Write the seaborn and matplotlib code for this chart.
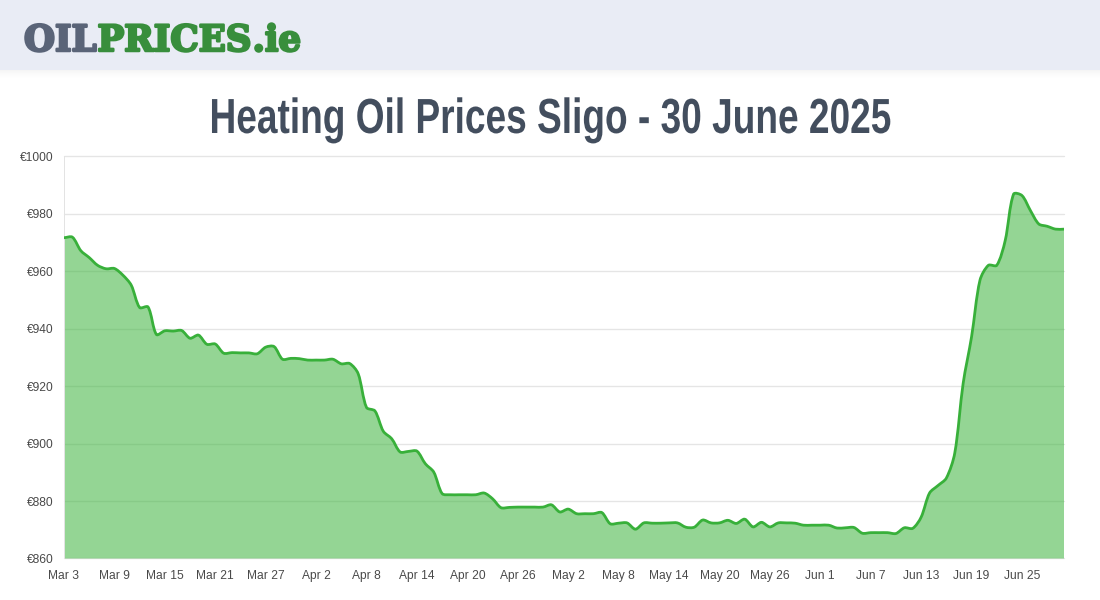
import numpy as np
import pandas as pd
import seaborn as sns
import matplotlib.pyplot as plt
import matplotlib.patheffects as pe
from matplotlib.patches import Rectangle, PathPatch
from matplotlib.path import Path
from matplotlib.transforms import Affine2D

# daily heating oil price, Mar 3 to Jun 30
prices = [971.7, 971.9, 967.2, 964.8, 962.1, 960.9, 961.0, 958.7, 955.2, 947.4,
          947.6, 938.0, 939.3, 939.2, 939.4, 936.7, 937.8, 934.6, 934.7, 931.5,
          931.7, 931.6, 931.6, 931.3, 933.6, 933.8, 929.4, 929.7, 929.6, 929.1,
          929.1, 929.1, 929.4, 927.8, 927.9, 924.4, 912.6, 911.4, 904.3, 901.7,
          897.1, 897.3, 897.4, 893.0, 890.1, 882.6, 882.2, 882.2, 882.2, 882.2,
          882.8, 880.8, 877.7, 877.8, 877.9, 877.9, 877.9, 877.9, 878.7, 876.2,
          877.2, 875.6, 875.6, 875.6, 876.0, 872.1, 872.3, 872.4, 870.2, 872.4,
          872.3, 872.3, 872.4, 872.4, 870.9, 870.9, 873.4, 872.4, 872.4, 873.3,
          872.2, 873.7, 871.0, 872.6, 871.0, 872.4, 872.4, 872.3, 871.6, 871.6,
          871.6, 871.6, 870.6, 870.7, 870.8, 868.8, 869.0, 869.0, 869.0, 868.7,
          870.7, 870.5, 874.4, 882.8, 885.4, 888.0, 896.7, 921.0, 937.2, 956.9,
          962.1, 962.1, 970.7, 986.9, 986.4, 981.2, 976.5, 975.7, 974.7, 974.7]
x_labels = ['Mar 3', 'Mar 9', 'Mar 15', 'Mar 21', 'Mar 27', 'Apr 2', 'Apr 8', 'Apr 14',
            'Apr 20', 'Apr 26', 'May 2', 'May 8', 'May 14', 'May 20', 'May 26', 'Jun 1',
            'Jun 7', 'Jun 13', 'Jun 19', 'Jun 25']
y_ticks = [860, 880, 900, 920, 940, 960, 980, 1000]

W, H = 1100, 600
df = pd.DataFrame({'day': np.arange(len(prices)), 'price': prices})


def smooth_path(xs, ys, tension=0.3, px=8.4, py=2.87):
    # same bezier as the web chart: control points from neighbours, weighted by distance
    n = len(xs)
    verts = [(xs[0], ys[0])]
    codes = [Path.MOVETO]
    cp_in = [None] * n
    cp_out = [None] * n
    for i in range(n):
        a, b = max(i - 1, 0), min(i + 1, n - 1)
        d1 = np.hypot((xs[i] - xs[a]) * px, (ys[i] - ys[a]) * py)
        d2 = np.hypot((xs[b] - xs[i]) * px, (ys[b] - ys[i]) * py)
        tot = max(d1 + d2, 1e-6)
        dx, dy = xs[b] - xs[a], ys[b] - ys[a]
        cp_in[i] = (xs[i] - tension * d1 / tot * dx, ys[i] - tension * d1 / tot * dy)
        cp_out[i] = (xs[i] + tension * d2 / tot * dx, ys[i] + tension * d2 / tot * dy)
    for i in range(1, n):
        verts += [cp_out[i - 1], cp_in[i], (xs[i], ys[i])]
        codes += [Path.CURVE4] * 3
    return Path(verts, codes)


class SmoothLine(pe.AbstractPathEffect):
    def draw_path(self, renderer, gc, tpath, affine, rgbFace=None):
        v = tpath.vertices
        renderer.draw_path(gc, smooth_path(v[:, 0], v[:, 1]), affine, rgbFace)


class Squeeze(pe.AbstractPathEffect):
    # narrows a text sideways around a pixel column, there is no condensed font here
    def __init__(self, cx, sx, lw=0):
        super().__init__()
        self.cx, self.sx, self.lw = cx, sx, lw

    def draw_path(self, renderer, gc, tpath, affine, rgbFace=None):
        a = affine + Affine2D().translate(-self.cx, 0).scale(self.sx, 1).translate(self.cx, 0)
        gc0 = renderer.new_gc()
        gc0.copy_properties(gc)
        gc0.set_linewidth(self.lw)
        gc0.set_foreground(rgbFace)
        renderer.draw_path(gc0, tpath, a, rgbFace)
        gc0.restore()


sns.set_theme(style='white')
plt.rcParams['font.family'] = ['Liberation Sans', 'DejaVu Sans']

fig = plt.figure(figsize=(11, 6), dpi=100, facecolor='white')
ax = fig.add_axes([64 / W, 1 - 558.5 / H, 1000 / W, 402 / H])

# header band with soft shadow under it
for k in range(10):
    fig.patches.append(Rectangle((0, 1 - (71 + k) / H), 1, 1 / H, transform=fig.transFigure,
                                 color='black', alpha=0.04 * (1 - k / 10) ** 2, lw=0))
fig.patches.append(Rectangle((0, 1 - 70 / H), 1, 70 / H, transform=fig.transFigure,
                             color='#e9ecf5', lw=0))

sns.lineplot(data=df, x='day', y='price', ax=ax, color='#38b03a', linewidth=2, zorder=3)
line = ax.get_lines()[0]
line.set_path_effects([SmoothLine()])

# area under the line, same curve closed along the bottom
curve = smooth_path(df['day'].values, df['price'].values)
area_verts = np.vstack([curve.vertices, [[df['day'].iloc[-1], 860], [0, 860], [0, df['price'].iloc[0]]]])
area_codes = list(curve.codes) + [Path.LINETO, Path.LINETO, Path.CLOSEPOLY]
ax.add_patch(PathPatch(Path(area_verts, area_codes), facecolor='#3cb43c', alpha=0.55, lw=0, zorder=2))

ax.set_xlim(0, len(prices) - 1)
ax.set_ylim(860, 1000)
ax.set_xticks(df['day'][::6], x_labels)
ax.set_yticks(y_ticks, ['€%d' % v for v in y_ticks])
ax.set_xlabel('')
ax.set_ylabel('')
ax.grid(axis='y', color='#000000', alpha=0.1, lw=1, zorder=1)
for gl in ax.get_ygridlines():
    gl.set_clip_on(False)
ax.set_axisbelow(True)
ax.tick_params(axis='y', length=7.2, width=0.72, color='#e3e3e3', labelsize=8.64, labelcolor='#4a4a4a', pad=0)
ax.tick_params(axis='x', length=0, labelsize=8.64, labelcolor='#4a4a4a', pad=8.5)
for side in ['top', 'right', 'bottom']:
    ax.spines[side].set_visible(False)
ax.spines['left'].set_color('#e3e3e3')
ax.spines['left'].set_linewidth(0.72)

renderer = fig.canvas.get_renderer()

title = fig.text(0.5, 1 - 133 / H, 'Heating Oil Prices Sligo - 30 June 2025', ha='center', va='baseline',
                 family='Liberation Sans', weight='bold', fontsize=35.5, color='#434e5e')
title_w = title.get_window_extent(renderer).width
title.set_path_effects([Squeeze(550, 681 / title_w, lw=0)])

# logo, three pieces placed one after the other
x_pos = 24
pieces = []
for piece, col in [('OIL', '#5a6478'), ('PRICES', '#388e3c'), ('.ie', '#388e3c')]:
    t = fig.text(x_pos / W, 1 - 51 / H, piece, ha='left', va='baseline', family='DejaVu Serif',
                 weight='bold', fontsize=26, color=col)
    x_pos = t.get_window_extent(renderer).x1 + 1
    pieces.append(t)
for t in pieces:
    t.set_path_effects([Squeeze(24, 278 / (x_pos - 24), lw=1.8)])

fig.savefig('out.png', dpi=100)
